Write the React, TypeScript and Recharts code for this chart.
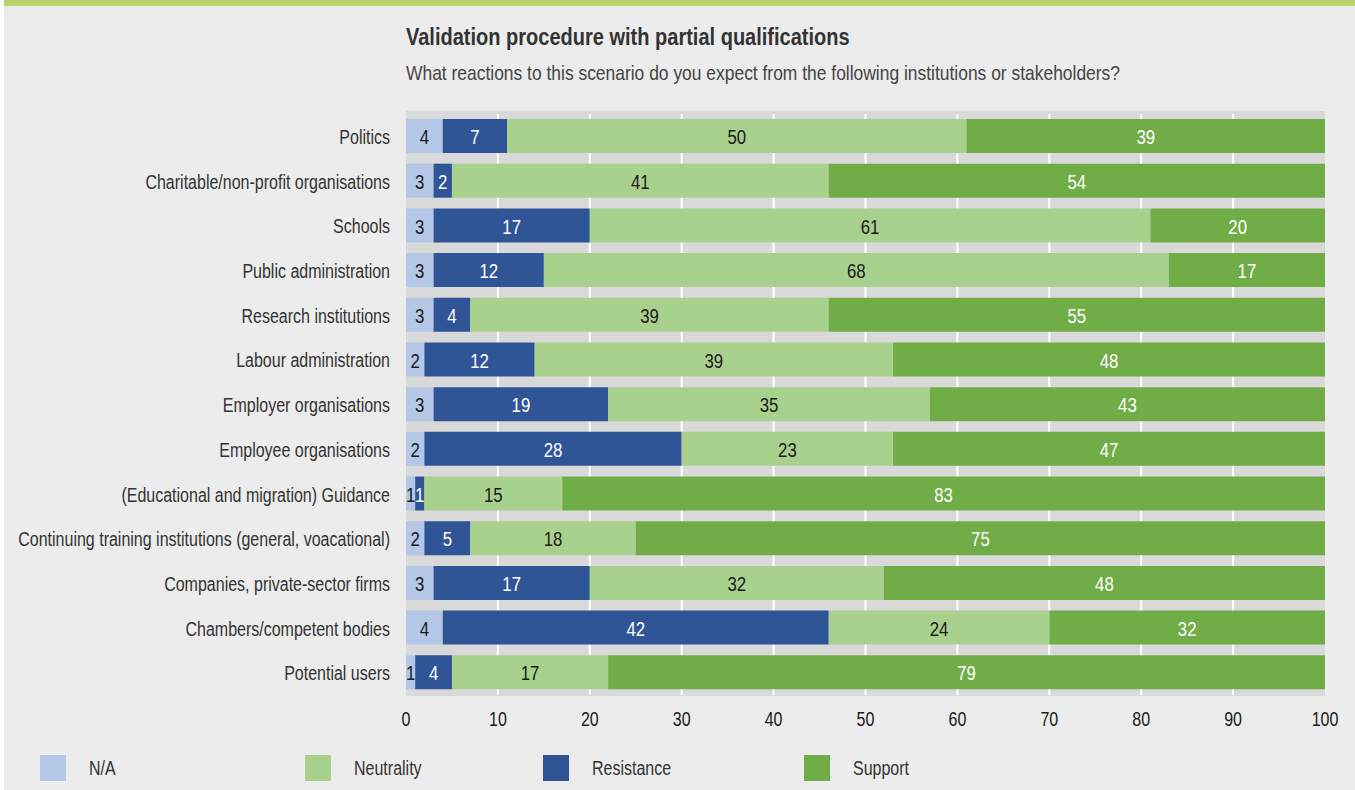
import React from 'react';
import { BarChart, Bar, XAxis, YAxis, CartesianGrid, LabelList } from 'recharts';

// Survey answers per stakeholder, in percent
const categories = [
  'Politics',
  'Charitable/non-profit organisations',
  'Schools',
  'Public administration',
  'Research institutions',
  'Labour administration',
  'Employer organisations',
  'Employee organisations',
  '(Educational and migration) Guidance',
  'Continuing training institutions (general, voacational)',
  'Companies, private-sector firms',
  'Chambers/competent bodies',
  'Potential users',
];
const naValues = [4, 3, 3, 3, 3, 2, 3, 2, 1, 2, 3, 4, 1];
const resistanceValues = [7, 2, 17, 12, 4, 12, 19, 28, 1, 5, 17, 42, 4];
const neutralityValues = [50, 41, 61, 68, 39, 39, 35, 23, 15, 18, 32, 24, 17];
const supportValues = [39, 54, 20, 17, 55, 48, 43, 47, 83, 75, 48, 32, 79];
const xTicks = [0, 10, 20, 30, 40, 50, 60, 70, 80, 90, 100];

const series = [
  { key: 'na', name: 'N/A', color: '#b4c7e7', text: '#1a1a1a' },
  { key: 'resistance', name: 'Resistance', color: '#2f5597', text: '#ffffff' },
  { key: 'neutrality', name: 'Neutrality', color: '#a9d18e', text: '#1a1a1a' },
  { key: 'support', name: 'Support', color: '#70ad47', text: '#ffffff' },
];
const legendOrder = ['na', 'neutrality', 'resistance', 'support'];
const legendX = [40, 305, 543, 804];

const data = categories.map((name, i) => ({
  name,
  na: naValues[i],
  resistance: resistanceValues[i],
  neutrality: neutralityValues[i],
  support: supportValues[i],
}));

// no condensed font installed, so squeeze a regular one
const FONT = "'Liberation Sans', Arial, sans-serif";
const SX = 0.8;

function NarrowText({ x, y, anchor, fill, size, children }: any) {
  return (
    <text
      transform={`translate(${x},${y}) scale(${SX},1)`}
      textAnchor={anchor}
      dominantBaseline="central"
      fill={fill}
      fontSize={size}
      fontFamily={FONT}
    >
      {children}
    </text>
  );
}

const CategoryTick = ({ x, y, payload }: any) => (
  <NarrowText x={x} y={y + 1} anchor="end" fill="#333333" size={20}>
    {payload.value}
  </NarrowText>
);

const ValueTick = ({ x, y, payload }: any) => (
  <NarrowText x={x} y={y + 16} anchor="middle" fill="#1a1a1a" size={20}>
    {payload.value}
  </NarrowText>
);

const makeBarLabel = (color: string) => (props: any) => {
  const { x, y, width, height, value } = props;
  const right = Math.min(x + width, 1325);
  return (
    <NarrowText x={(x + right) / 2} y={y + height / 2 + 1} anchor="middle" fill={color} size={21}>
      {value}
    </NarrowText>
  );
};

const squeeze = (sx: number): React.CSSProperties => ({
  display: 'inline-block',
  transform: `scaleX(${sx})`,
  transformOrigin: 'left center',
  whiteSpace: 'nowrap',
});

export default function App() {
  return (
    <div
      style={{
        position: 'fixed',
        top: 0,
        left: 0,
        width: 1355,
        height: 790,
        background: '#ffffff',
        fontFamily: FONT,
        overflow: 'hidden',
      }}
    >
      <div style={{ position: 'absolute', left: 4, top: 0, right: 0, bottom: 0, background: '#ececec' }} />
      <div style={{ position: 'absolute', left: 4, top: 0, right: 0, height: 6, background: '#b9d46c' }} />
      <div style={{ position: 'absolute', left: 406, top: 24, fontSize: 23, fontWeight: 'bold', color: '#333333' }}>
        <span style={squeeze(0.87)}>Validation procedure with partial qualifications</span>
      </div>
      <div style={{ position: 'absolute', left: 406, top: 61, fontSize: 21, color: '#444444' }}>
        <span style={squeeze(0.83)}>
          What reactions to this scenario do you expect from the following institutions or stakeholders?
        </span>
      </div>
      <div style={{ position: 'absolute', left: 406, top: 111, width: 919, height: 585, background: '#d9d9d9' }} />

      <div style={{ position: 'absolute', left: 0, top: 0 }}>
        <BarChart
          width={1355}
          height={740}
          data={data}
          layout="vertical"
          margin={{ top: 114, right: 30, left: 0, bottom: 0 }}
        >
          <CartesianGrid
            horizontal={false}
            fill="#d9d9d9"
            stroke="#ffffff"
            strokeWidth={2}
            verticalCoordinatesGenerator={({ offset }: any) =>
              xTicks.slice(1, -1).map((t) => offset.left + (offset.width * t) / 100)
            }
          />
          <XAxis
            type="number"
            domain={[0, 100]}
            ticks={xTicks}
            allowDataOverflow
            axisLine={false}
            tickLine={false}
            height={45}
            tick={<ValueTick />}
          />
          <YAxis
            type="category"
            dataKey="name"
            width={406}
            axisLine={false}
            tickLine={false}
            tickMargin={10}
            interval={0}
            tick={<CategoryTick />}
          />
          {series.map((s) => (
            <Bar key={s.key} dataKey={s.key} stackId="a" fill={s.color} barSize={34} isAnimationActive={false}>
              <LabelList dataKey={s.key} content={makeBarLabel(s.text)} />
            </Bar>
          ))}
        </BarChart>
      </div>

      {legendOrder.map((k, i) => {
        const s = series.find((x) => x.key === k)!;
        return (
          <div
            key={k}
            style={{ position: 'absolute', left: legendX[i], top: 755, display: 'flex', alignItems: 'center' }}
          >
            <div style={{ width: 26, height: 26, background: s.color }} />
            <span style={{ marginLeft: 23, fontSize: 20, color: '#333333' }}>
              <span style={squeeze(SX)}>{s.name}</span>
            </span>
          </div>
        );
      })}
    </div>
  );
}
